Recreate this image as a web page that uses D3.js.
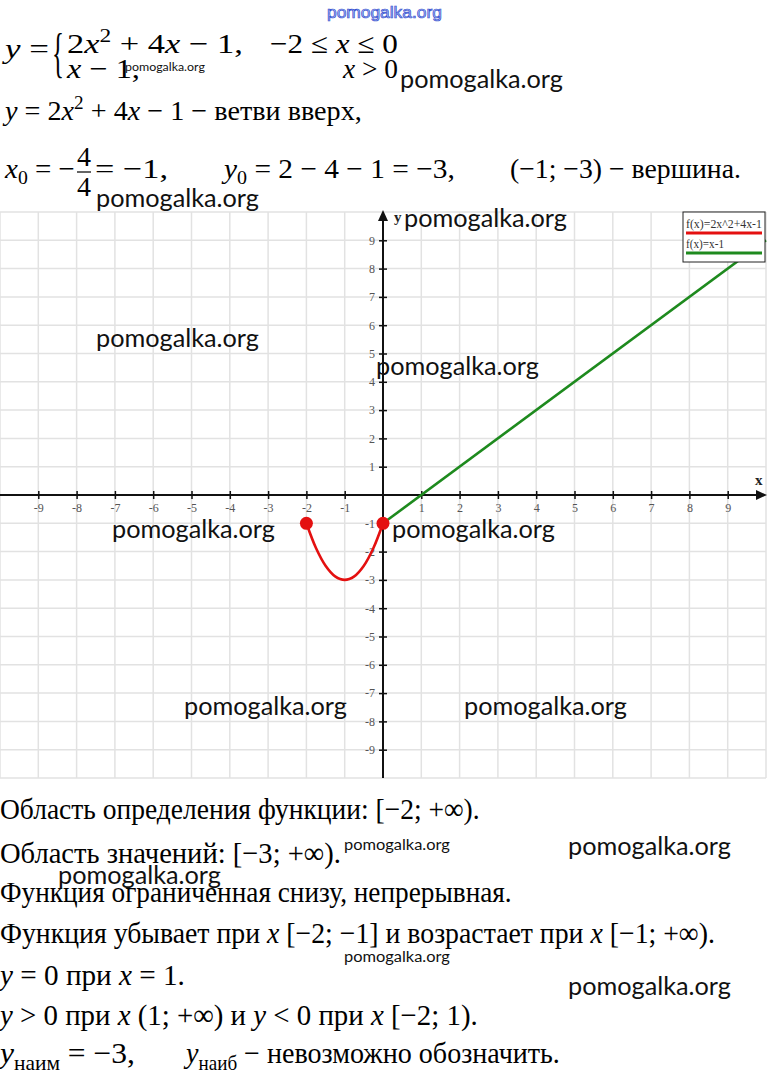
<!DOCTYPE html>
<html><head><meta charset="utf-8">
<script src="https://cdn.jsdelivr.net/npm/d3@7"></script>
<style>body{margin:0;background:#fff}svg{display:block}</style>
</head><body>
<svg id="c" width="768" height="1073"></svg>
<script>
// ---- data ----
const gridValues = [-10,-9,-8,-7,-6,-5,-4,-3,-2,-1,0,1,2,3,4,5,6,7,8,9,10];
const xTicks = [-9,-8,-7,-6,-5,-4,-3,-2,-1,1,2,3,4,5,6,7,8,9];
const yTicks = [-9,-8,-7,-6,-5,-4,-3,-2,-1,1,2,3,4,5,6,7,8,9];
const parabolaX = [-2,-1.75,-1.5,-1.25,-1,-0.75,-0.5,-0.25,0];
const parabolaY = [-1,-1.875,-2.5,-2.875,-3,-2.875,-2.5,-1.875,-1];
const lineX = [0, 10];
const lineY = [-1, 9];
const dotX = [-2, 0];
const dotY = [-1, -1];
const legendLabels = ["f(x)=2x^2+4x-1", "f(x)=x-1"];
const seriesColors = ["#e41010", "#1e8a1e"];

const svg = d3.select("#c");
const SERIF = "'Liberation Serif', 'Times New Roman', 'DejaVu Serif', serif";

// ---- scales ----
const x = d3.scaleLinear().domain([-10, 10]).range([0, 766]);
const y = d3.scaleLinear().domain([-10, 10]).range([778, 212]);

// ---- grid ----
const grid = svg.append("g").attr("stroke", "#e2e2e2").attr("stroke-width", 1.5);
grid.selectAll("line.v").data(gridValues).join("line").attr("class","v")
  .attr("x1", d => x(d)).attr("x2", d => x(d)).attr("y1", y(10)).attr("y2", y(-10));
grid.selectAll("line.h").data(gridValues).join("line").attr("class","h")
  .attr("y1", d => y(d)).attr("y2", d => y(d)).attr("x1", x(-10)).attr("x2", x(10));

// ---- axes ----
const xAxis = svg.append("g").attr("transform", `translate(0,${y(0) - 4})`)
  .call(d3.axisBottom(x).tickValues(xTicks).tickSize(8).tickPadding(4).tickFormat(d3.format("d")));
xAxis.select(".domain").remove();
const yAxis = svg.append("g").attr("transform", `translate(${x(0) + 4},0)`)
  .call(d3.axisLeft(y).tickValues(yTicks).tickSize(8).tickPadding(4).tickFormat(d3.format("d")));
yAxis.select(".domain").remove();
[xAxis, yAxis].forEach(a => {
  a.selectAll(".tick line").attr("stroke", "#111").attr("stroke-width", 1.5);
  a.selectAll(".tick text").attr("font-family", SERIF).attr("font-size", 12).attr("fill", "#555")
    .text(d => String(d).replace("−", "-"));
});
svg.append("line").attr("x1", x(-10)).attr("x2", 758).attr("y1", y(0)).attr("y2", y(0))
  .attr("stroke", "#111").attr("stroke-width", 2);
svg.append("path").attr("d", `M767,${y(0)} L756,${y(0)-5} L756,${y(0)+5} Z`).attr("fill", "#111");
svg.append("line").attr("x1", x(0)).attr("x2", x(0)).attr("y1", y(-10)).attr("y2", 220)
  .attr("stroke", "#111").attr("stroke-width", 2);
svg.append("path").attr("d", `M${x(0)},210 L${x(0)-5},221 L${x(0)+5},221 Z`).attr("fill", "#111");
svg.append("text").attr("x", 394).attr("y", 222).attr("font-family", SERIF).attr("font-weight", "bold")
  .attr("font-size", 15).attr("fill", "#222").text("y");
svg.append("text").attr("x", 755).attr("y", 485).attr("font-family", SERIF).attr("font-weight", "bold")
  .attr("font-size", 15).attr("fill", "#222").text("x");

// ---- series ----
const greenPts = lineX.map((v, i) => [v, lineY[i]]);
svg.append("path").datum(greenPts)
  .attr("d", d3.line().x(d => x(d[0])).y(d => y(d[1])))
  .attr("fill", "none").attr("stroke", seriesColors[1]).attr("stroke-width", 2.6);
const redPts = parabolaX.map((v, i) => [v, parabolaY[i]]);
svg.append("path").datum(redPts)
  .attr("d", d3.line().curve(d3.curveCatmullRom).x(d => x(d[0])).y(d => y(d[1])))
  .attr("fill", "none").attr("stroke", seriesColors[0]).attr("stroke-width", 2.6);
svg.selectAll("circle.dot").data(dotX.map((v, i) => [v, dotY[i]])).join("circle")
  .attr("class", "dot").attr("cx", d => x(d[0])).attr("cy", d => y(d[1])).attr("r", 6.5)
  .attr("fill", seriesColors[0]);

// ---- helpers: text condensed horizontally with a transform ----
function fitX(t, x0, y0, len) {
  const w = t.node().getComputedTextLength();
  const s = len && w ? len / w : 1;
  t.attr("x", 0).attr("y", 0).attr("transform", `translate(${x0},${y0}) scale(${s},1)`);
  return t;
}

// ---- legend ----
const lg = svg.append("g");
lg.append("rect").attr("x", 683).attr("y", 212).attr("width", 82).attr("height", 50)
  .attr("fill", "#fff").attr("stroke", "#222").attr("stroke-width", 1);
legendLabels.forEach((lab, i) => {
  const t = lg.append("text").attr("font-family", SERIF)
    .attr("font-size", 12).attr("fill", "#333").text(lab);
  fitX(t, 686, 228 + i * 20, i === 0 ? 76 : 38);
  lg.append("line").attr("x1", 686).attr("x2", 762).attr("y1", 233 + i * 20).attr("y2", 233 + i * 20)
    .attr("stroke", seriesColors[i]).attr("stroke-width", 3);
});

// ---- math / text ----
function mtext(x0, y0, size, len, segs) {
  const t = svg.append("text").attr("font-family", SERIF)
    .attr("font-size", size).attr("fill", "#000");
  let shift = 0;
  segs.forEach(([s, k]) => {
    k = k || "";
    const ts = t.append("tspan").text(s);
    let target = 0;
    if (k.includes("sup")) { target = -size * 0.4; ts.attr("font-size", size * 0.68); }
    if (k.includes("sub")) { target = size * 0.22; ts.attr("font-size", size * 0.68); }
    if (k.startsWith("i")) ts.attr("font-style", "italic");
    ts.attr("dy", target - shift); shift = target;
  });
  return fitX(t, x0, y0, len);
}
const F = 28;
mtext(5, 58, F, 44, [["y", "i"], [" ="]]);
fitX(svg.append("text").attr("font-family", SERIF).attr("font-size", 54).attr("fill", "#000").text("{"), 52, 71, 12);
mtext(67, 53, F, 176, [["2"], ["x", "i"], ["2", "sup"], [" + 4"], ["x", "i"], [" − 1,"]]);
mtext(270, 53, F, 128, [["−2 ≤ "], ["x", "i"], [" ≤ 0"]]);
mtext(67, 78, F, 73, [["x", "i"], [" − 1,"]]);
mtext(343, 78, F, 55, [["x", "i"], [" > 0"]]);
mtext(5, 120, F, 357, [["y", "i"], [" = 2"], ["x", "i"], ["2", "sup"], [" + 4"], ["x", "i"], [" − 1 − ветви вверх,"]]);
mtext(5, 178, F, 70, [["x", "i"], ["0", "sub"], [" = −"]]);
svg.append("text").attr("x", 84).attr("y", 166).attr("text-anchor", "middle").attr("font-family", SERIF)
  .attr("font-size", F).attr("fill", "#000").text("4");
svg.append("line").attr("x1", 77).attr("x2", 91).attr("y1", 172).attr("y2", 172).attr("stroke", "#111").attr("stroke-width", 1.3);
svg.append("text").attr("x", 84).attr("y", 196).attr("text-anchor", "middle").attr("font-family", SERIF)
  .attr("font-size", F).attr("fill", "#000").text("4");
mtext(95, 178, F, 73, [["= −1,"]]);
mtext(224, 178, F, 231, [["y", "i"], ["0", "sub"], [" = 2 − 4 − 1 = −3,"]]);
mtext(510, 178, F, 231, [["(−1; −3) − вершина."]]);

const B = 30;
mtext(0, 819, B, 480, [["Область определения функции: [−2; +∞)."]]);
mtext(0, 863, B, 341, [["Область значений: [−3;  +∞)."]]);
mtext(0, 902, B, 512, [["Функция ограниченная снизу, непрерывная."]]);
mtext(0, 943, B, 715, [["Функция  убывает при "], ["x", "i"], [" [−2; −1] и возрастает при "], ["x", "i"], [" [−1; +∞)."]]);
mtext(0, 985, B, 185, [["y", "i"], [" = 0 при "], ["x", "i"], [" = 1."]]);
mtext(0, 1025, B, 478, [["y", "i"], [" > 0 при "], ["x", "i"], [" (1;  +∞) и "], ["y", "i"], [" < 0 при "], ["x", "i"], [" [−2; 1)."]]);
mtext(0, 1063, B, 135, [["y", "i"], ["наим", "sub"], [" = −3,"]]);
mtext(186, 1063, B, 374, [["y", "i"], ["наиб", "sub"], [" − невозможно обозначить."]]);

// ---- watermarks ----
const wm = "pomogalka.org";
const bigMarks = [[400,88],[96,207],[404,227],[96,347],[376,375],[112,538],[392,538],[184,715],[464,715],[568,855],[58,884],[568,995]];
bigMarks.forEach(([a, b]) => {
  fitX(svg.append("text").attr("font-family", "Lato").attr("font-size", 25).attr("fill", "#111").text(wm), a, b, 163);
});
[[125,71,80,12],[344,850,106,15],[344,962,106,15]].forEach(([a, b, w, s]) => {
  fitX(svg.append("text").attr("font-family", "Lato").attr("font-size", s).attr("fill", "#111").text(wm), a, b, w);
});
fitX(svg.append("text").attr("font-family", "Liberation Sans")
  .attr("font-size", 16).attr("fill", "#b8c6f5").attr("stroke", "#3550d0").attr("stroke-width", 0.7)
  .text(wm), 327, 18, 115);
</script>
</body></html>
